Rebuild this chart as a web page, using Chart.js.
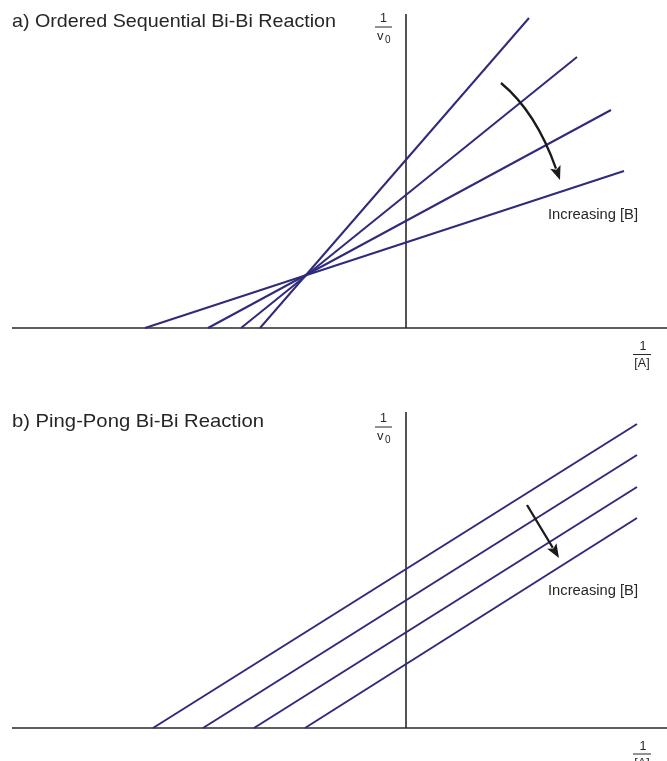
<!DOCTYPE html>
<html>
<head>
<meta charset="utf-8">
<script src="https://cdn.jsdelivr.net/npm/chart.js@4"></script>
<style>
  html, body { margin: 0; padding: 0; background: #fff; }
  #wrap { position: relative; width: 667px; height: 761px; overflow: hidden; }
  canvas { position: absolute; left: 0; }
</style>
</head>
<body>
<div id="wrap">
  <canvas id="cA" width="667" height="380" style="top:0"></canvas>
  <canvas id="cB" width="667" height="381" style="top:380px"></canvas>
</div>
<script>
// ---- Data (x = 1/[A], y = 1/v0, arbitrary units) ----
// Panel a: Ordered Sequential Bi-Bi (lines intersect left of the y axis)
const seqXStart = [-1.46, -1.65, -1.98, -2.61];
const seqXEnd   = [1.23, 1.71, 2.05, 2.18];
const seqYEnd   = [3.10, 2.71, 2.18, 1.57];
// Panel b: Ping-Pong Bi-Bi (parallel lines)
const pingXStart = [-2.53, -2.03, -1.52, -1.01];
const pingXEnd   = [2.31, 2.31, 2.31, 2.31];
const pingYEnd   = [3.04, 2.73, 2.41, 2.10];

const titleA = 'a) Ordered Sequential Bi-Bi Reaction';
const titleB = 'b) Ping-Pong Bi-Bi Reaction';
const noteText = 'Increasing [B]';

const LINE_COLOR = '#2f2a7c';
const INK = '#262626';
const FONT = '"Liberation Sans", Arial, sans-serif';

function makeDatasets(xs, xe, ye) {
  return xs.map((x0, i) => ({
    data: [{ x: x0, y: 0 }, { x: xe[i], y: ye[i] }],
    borderColor: LINE_COLOR,
    borderWidth: 2,
    pointRadius: 0,
    fill: false,
    tension: 0
  }));
}

function fitText(ctx, text, x, y, targetW) {
  const w = ctx.measureText(text).width;
  ctx.save();
  ctx.translate(x, y);
  if (targetW) ctx.scale(targetW / w, 1);
  ctx.fillText(text, 0, 0);
  ctx.restore();
}

const decor = {
  id: 'decor',
  beforeDatasetsDraw(chart, args, o) {
    const ctx = chart.ctx, xs = chart.scales.x, ys = chart.scales.y;
    const X0 = xs.getPixelForValue(0), Y0 = ys.getPixelForValue(0);
    ctx.save();
    ctx.strokeStyle = '#2a2a2a';
    ctx.lineWidth = 1.6;
    ctx.beginPath();
    ctx.moveTo(xs.getPixelForValue(o.axisXMin), Y0);
    ctx.lineTo(chart.width, Y0);
    ctx.moveTo(X0, ys.getPixelForValue(o.axisYMax));
    ctx.lineTo(X0, Y0);
    ctx.stroke();
    ctx.restore();
  },
  afterDraw(chart, args, o) {
    const ctx = chart.ctx, xs = chart.scales.x, ys = chart.scales.y;
    const X0 = xs.getPixelForValue(0), Y0 = ys.getPixelForValue(0);
    ctx.save();
    ctx.fillStyle = INK;
    ctx.textBaseline = 'alphabetic';
    // title
    ctx.font = '18.5px ' + FONT;
    ctx.textAlign = 'left';
    fitText(ctx, o.title, 12, o.titleBase, o.titleW);
    // y label 1/v0
    const yl = o.yLab;
    ctx.font = '12.5px ' + FONT;
    ctx.textAlign = 'center';
    ctx.fillText('1', X0 - 22.5, yl);
    ctx.fillRect(X0 - 31, yl + 4.5, 17, 1);
    ctx.textAlign = 'left';
    ctx.font = '13px ' + FONT;
    ctx.fillText('v', X0 - 29, yl + 17.5);
    ctx.font = '10px ' + FONT;
    ctx.fillText('0', X0 - 21, yl + 20.7);
    // x label 1/[A]
    const xl = Y0 + o.xLabOff;
    ctx.textAlign = 'center';
    ctx.font = '12.5px ' + FONT;
    ctx.fillText('1', 643, xl);
    ctx.fillRect(633, xl + 4, 18, 1);
    ctx.fillText('[A]', 642, xl + 17);
    // note
    ctx.font = '14px ' + FONT;
    ctx.textAlign = 'left';
    const nx = xs.getPixelForValue(o.note[0]), ny = ys.getPixelForValue(o.note[1]);
    fitText(ctx, noteText, nx, ny, 90);
    // arrow
    ctx.strokeStyle = '#1a1a1a';
    ctx.fillStyle = '#1a1a1a';
    ctx.lineWidth = 2.3;
    const P = o.arrow.map(p => [xs.getPixelForValue(p[0]), ys.getPixelForValue(p[1])]);
    const tip = P[P.length - 1];
    const prev = P[P.length - 2];
    let dx = tip[0] - prev[0], dy = tip[1] - prev[1];
    const L = Math.hypot(dx, dy); dx /= L; dy /= L;
    const hl = 14, hw = 5.5;
    const base = [tip[0] - dx * hl, tip[1] - dy * hl];
    ctx.beginPath();
    ctx.moveTo(P[0][0], P[0][1]);
    if (P.length === 3) {
      ctx.quadraticCurveTo(P[1][0], P[1][1], base[0] + dx * 2, base[1] + dy * 2);
    } else {
      ctx.lineTo(base[0] + dx * 2, base[1] + dy * 2);
    }
    ctx.stroke();
    ctx.beginPath();
    ctx.moveTo(tip[0], tip[1]);
    ctx.lineTo(base[0] - dy * hw, base[1] + dx * hw);
    ctx.lineTo(base[0] + dx * 3, base[1] + dy * 3);
    ctx.lineTo(base[0] + dy * hw, base[1] - dx * hw);
    ctx.closePath();
    ctx.fill();
    ctx.restore();
  }
};

function makeChart(id, datasets, yMin, yMax, opts) {
  return new Chart(document.getElementById(id), {
    type: 'line',
    data: { datasets },
    options: {
      responsive: false,
      animation: false,
      events: [],
      layout: { padding: 0 },
      scales: {
        x: { type: 'linear', min: -4.06, max: 2.61, display: false },
        y: { type: 'linear', min: yMin, max: yMax, display: false }
      },
      plugins: { legend: { display: false }, tooltip: { enabled: false }, decor: opts }
    },
    plugins: [decor]
  });
}

makeChart('cA', makeDatasets(seqXStart, seqXEnd, seqYEnd), -0.52, 3.28, {
  title: titleA, titleBase: 27, titleW: 324,
  axisXMin: -3.94, axisYMax: 3.14,
  yLab: 22, xLabOff: 22,
  note: [1.42, 1.087],
  arrow: [[0.95, 2.45], [1.30, 2.16], [1.54, 1.48]]
});
makeChart('cB', makeDatasets(pingXStart, pingXEnd, pingYEnd), -0.33, 3.48, {
  title: titleB, titleBase: 46.7, titleW: 252,
  axisXMin: -3.94, axisYMax: 3.16,
  yLab: 42, xLabOff: 21.5,
  note: [1.42, 1.33],
  arrow: [[1.21, 2.23], [1.53, 1.70]]
});
</script>
</body>
</html>
